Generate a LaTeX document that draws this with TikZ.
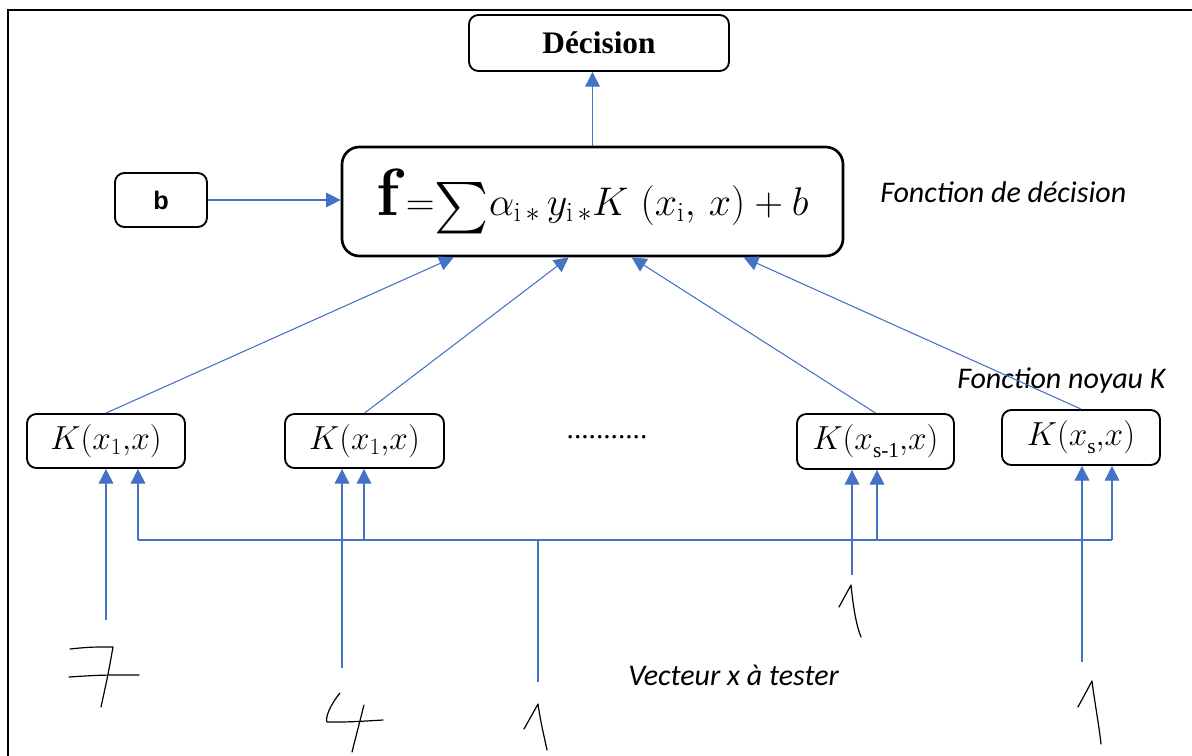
\RequirePackage{fix-cm}
\documentclass[tikz,border=0pt]{standalone}
\usepackage{amsmath}
\usepackage{graphicx}
\usepackage{fontspec}
\usetikzlibrary{arrows.meta,calc}
\newfontfamily\calib{Carlito}
\newfontfamily\tnr{Liberation Serif}
\newfontfamily\arialf{Liberation Sans}
\definecolor{linkblue}{HTML}{4472C4}
\newcommand{\bigsum}{\mathord{\raisebox{-0.22em}{\scalebox{1.55}{$\textstyle\sum$}}}}
\tikzset{
  roundbox/.style={draw=black, rounded corners=7pt, line width=1.4pt, inner sep=0pt, fill=white},
  bigbox/.style={draw=black, rounded corners=13pt, line width=2pt, inner sep=0pt, fill=white},
  link/.style={draw=linkblue, line width=0.8pt},
  arr/.style={link, -{Triangle[width=11pt,length=11pt]}},
  hand/.style={draw=black, line width=0.9pt, line cap=round, line join=round},
  note/.style={font=\calib\itshape\fontsize{22.5}{22.5}\selectfont, anchor=west, inner sep=0pt},
  kfont/.style={font=\fontsize{25}{25}\selectfont}
}
\begin{document}
\begin{tikzpicture}[x=0.75pt, y=-0.75pt]
\useasboundingbox (0,0) rectangle (1192,756);
% frame
\draw[line width=1.5pt] (8,756) -- (8,10) -- (1192,10);

% decision and score boxes
\node[roundbox, minimum width=260*0.75pt, minimum height=56*0.75pt] (dec) at (599,43)
  {\tnr\bfseries\fontsize{23.5}{23.5}\selectfont Décision};
\node[bigbox, minimum width=501*0.75pt, minimum height=109*0.75pt] (f) at (592.5,201.5)
  {{\fontsize{50}{50}\selectfont\bfseries f}\fontsize{30}{30}\selectfont$\mkern3mu{=}\bigsum\alpha_{\mathrm{i}\,*}\,y_{\mathrm{i}\,*}K\ (x_{\mathrm{i}},\,x)+b$};
\node[roundbox, minimum width=92*0.75pt, minimum height=54*0.75pt] (b) at (161,200)
  {\arialf\bfseries\fontsize{19}{19}\selectfont b};

% kernel boxes
\node[roundbox, kfont, minimum width=158*0.75pt, minimum height=54*0.75pt] (K1) at (106,441)
  {$K(x_{1}{,}x)$};
\node[roundbox, kfont, minimum width=159*0.75pt, minimum height=54*0.75pt] (K2) at (364.5,441)
  {$K(x\lower4pt\hbox{$\scriptstyle 1$}{,}x)$};
\node[roundbox, kfont, minimum width=157*0.75pt, minimum height=55*0.75pt] (K3) at (875.5,441.5)
  {$K(x\lower6pt\hbox{\tnr\fontsize{16}{16}\selectfont s-1}{,}x)$};
\node[roundbox, kfont, minimum width=158*0.75pt, minimum height=55*0.75pt] (K4) at (1081,437.5)
  {$K(x\lower6pt\hbox{\tnr\fontsize{16}{16}\selectfont s}{,}x)$};
\node[font=\tnr\fontsize{22}{22}\selectfont, inner sep=0pt] (dots) at (607,437) {...........};

% labels
\node[note] (lf) at (880,192) {Fonction de décision};
\node[note] (lk) at (957,381) {Fonction noyau K};
\node[note] (lv) at (628,675) {Vecteur x à tester};

% connectors to the decision function and the decision
\draw[arr] (f.north) -- (f.north |- dec.south);
\draw[arr] (b.east) -- (b.east -| f.west);
\draw[arr] (K1.north) -- ($(f.south west)+(113,0)$);
\draw[arr] (K2.north) -- ($(f.south west)+(228,0)$);
\draw[arr] (K3.north) -- ($(f.south west)+(291,0)$);
\draw[arr] (K4.north) -- ($(f.south west)+(403,0)$);

% input vector wiring
\coordinate (busL) at (138,540);
\coordinate (busR) at (1112,540);
\coordinate (b2) at (364,540);
\coordinate (b3) at (877,540);
\coordinate (in1) at (106,620);
\coordinate (in2) at (342,668);
\coordinate (in3) at (538,682);
\coordinate (in4) at (852,575);
\coordinate (in5) at (1082,662);
\draw[link] (busL) -- (busR);
\draw[arr] (busL) -- (busL |- K1.south);
\draw[arr] (busR) -- (busR |- K4.south);
\draw[arr] (b2) -- (b2 |- K2.south);
\draw[arr] (b3) -- (b3 |- K3.south);
\draw[arr] (in1) -- (in1 |- K1.south);
\draw[arr] (in2) -- (in2 |- K2.south);
\draw[arr] (in4) -- (in4 |- K3.south);
\draw[arr] (in5) -- (in5 |- K4.south);
\draw[link] (in3) -- (in3 |- busL);

% handwritten digits
% 7
\draw[hand] (70,649) .. controls (90,647) .. (113,647) .. controls (108,675) .. (101,707);
\draw[hand] (69,677) .. controls (100,675) .. (139,675);
% 4
\draw[hand] (340,693) .. controls (330,705) and (325,718) .. (327,722) .. controls (350,722) .. (383,720);
\draw[hand] (364,705) -- (352,752);
% 1 (middle)
\draw[hand] (524,729) -- (538,704) .. controls (541,725) and (545,740) .. (547,750);
% 1 (under K3)
\draw[hand] (839,607) -- (851,585) .. controls (853,605) and (856,625) .. (861,637);
% 1 (right)
\draw[hand] (1078,707) -- (1092,681) .. controls (1095,705) and (1099,725) .. (1101,744);
\end{tikzpicture}
\end{document}
